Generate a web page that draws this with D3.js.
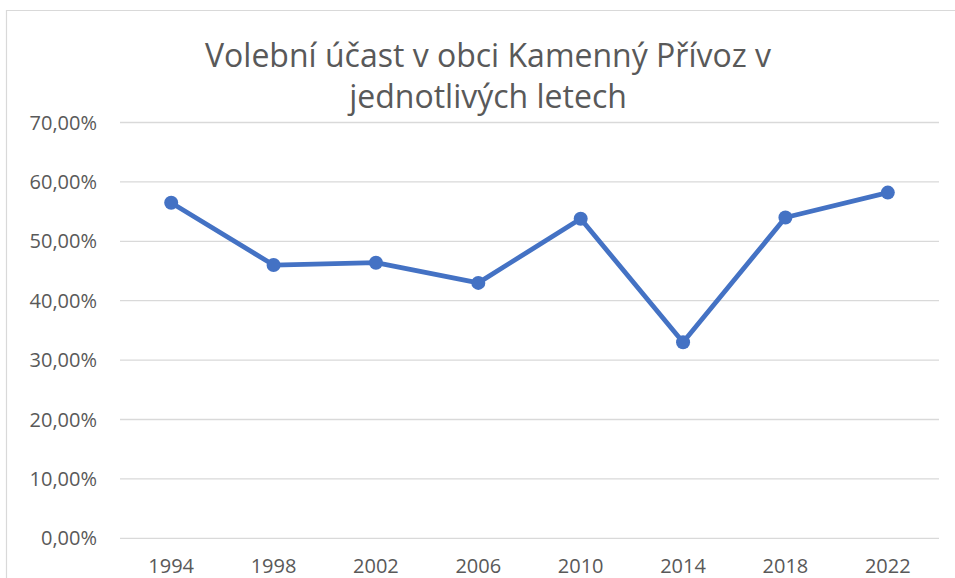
<!DOCTYPE html>
<html>
<head>
<meta charset="utf-8">
<script src="https://cdn.jsdelivr.net/npm/d3@7"></script>
<style>
  body { margin: 0; background: #fff; }
  svg { display: block; }
  text { font-family: "Open Sans", "Liberation Sans", sans-serif; fill: #595959; }
</style>
</head>
<body>
<script>
const years = ["1994", "1998", "2002", "2006", "2010", "2014", "2018", "2022"];
const turnout = [56.5, 46.0, 46.4, 43.0, 53.8, 33.0, 54.0, 58.2];
const yTicks = [0, 10, 20, 30, 40, 50, 60, 70];
const titleLines = ["Volební účast v obci Kamenný Přívoz v", "jednotlivých letech"];

const width = 955;
const height = 578;
const margin = { top: 122.5, right: 16, bottom: 39.7, left: 120 };

const svg = d3.select("body")
  .append("svg")
  .attr("width", width)
  .attr("height", height);

// chart frame (only top and left edges are visible in the crop)
svg.append("path")
  .attr("d", `M6.5,${height} V10.5 H${width}`)
  .attr("fill", "none")
  .attr("stroke", "#d9d9d9")
  .attr("stroke-width", 1.2);

const x = d3.scaleBand()
  .domain(years)
  .range([margin.left, width - margin.right]);

const y = d3.scaleLinear()
  .domain([0, 70])
  .range([height - margin.bottom, margin.top]);

const fmt = (d) => d.toFixed(2).replace(".", ",") + "%";

// gridlines
svg.append("g")
  .selectAll("line")
  .data(yTicks)
  .enter()
  .append("line")
  .attr("x1", margin.left)
  .attr("x2", width - margin.right)
  .attr("y1", (d) => y(d))
  .attr("y2", (d) => y(d))
  .attr("stroke", "#d9d9d9")
  .attr("stroke-width", 1.3);

// y labels
svg.append("g")
  .selectAll("text")
  .data(yTicks)
  .enter()
  .append("text")
  .attr("x", 97)
  .attr("y", (d) => y(d))
  .attr("dy", "0.35em")
  .attr("text-anchor", "end")
  .style("font-size", "20px")
  .text(fmt);

// x labels
svg.append("g")
  .selectAll("text")
  .data(years)
  .enter()
  .append("text")
  .attr("x", (d) => x(d) + x.bandwidth() / 2)
  .attr("y", 573)
  .attr("text-anchor", "middle")
  .style("font-size", "20px")
  .text((d) => d);

// line
const line = d3.line()
  .x((d, i) => x(years[i]) + x.bandwidth() / 2)
  .y((d) => y(d));

svg.append("path")
  .datum(turnout)
  .attr("d", line)
  .attr("fill", "none")
  .attr("stroke", "#4472c4")
  .attr("stroke-width", 4.8)
  .attr("stroke-linejoin", "round")
  .attr("stroke-linecap", "round");

svg.append("g")
  .selectAll("circle")
  .data(turnout)
  .enter()
  .append("circle")
  .attr("cx", (d, i) => x(years[i]) + x.bandwidth() / 2)
  .attr("cy", (d) => y(d))
  .attr("r", 7)
  .attr("fill", "#4472c4");

// title
svg.append("g")
  .selectAll("text")
  .data(titleLines)
  .enter()
  .append("text")
  .attr("x", 488)
  .attr("y", (d, i) => 67 + i * 41)
  .attr("text-anchor", "middle")
  .style("font-size", "32px")
  .text((d) => d);
</script>
</body>
</html>
